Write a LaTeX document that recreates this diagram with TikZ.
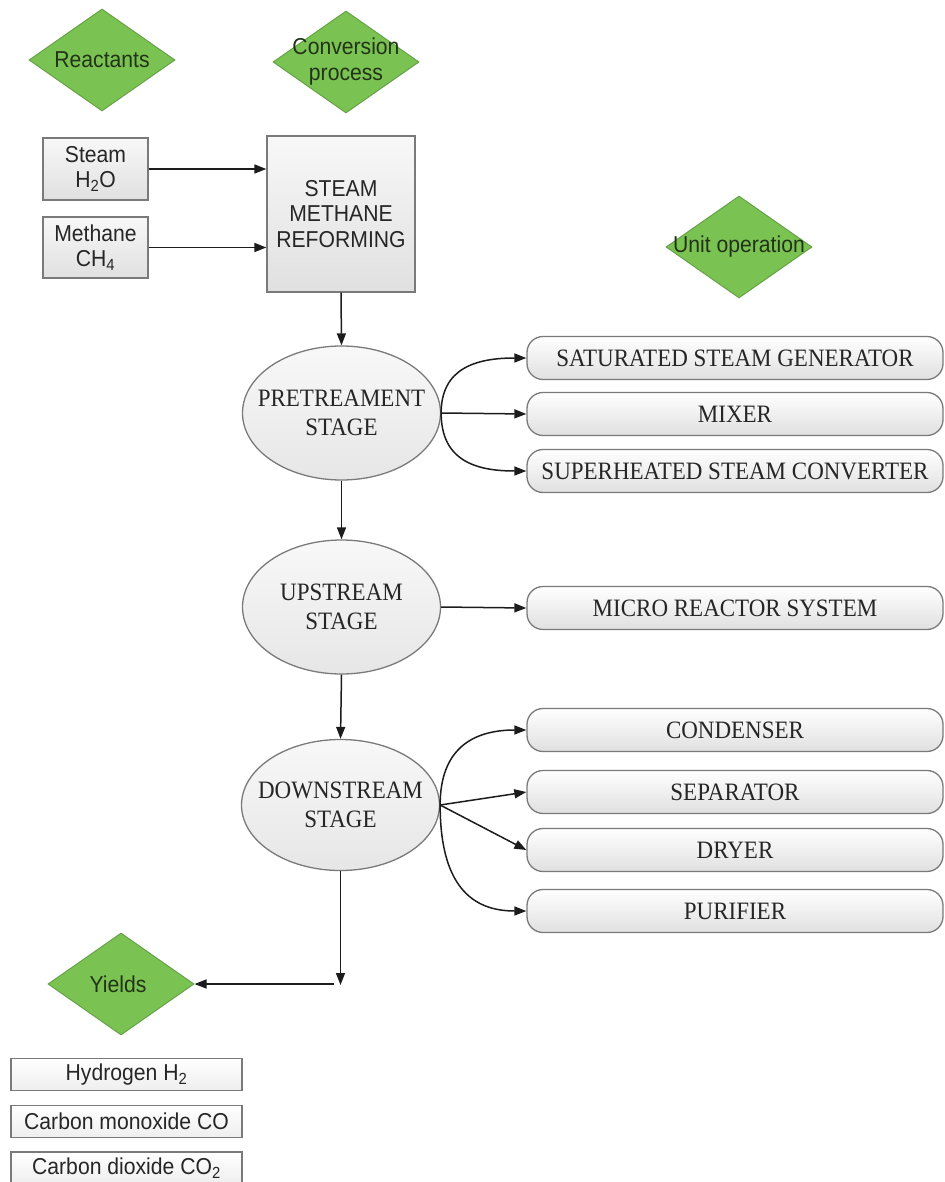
\documentclass[tikz,border=0pt]{standalone}
\usepackage{fontspec}
\setmainfont{Liberation Serif}
\newfontfamily\boxsans[FakeStretch=0.92]{Liberation Sans}
\newfontfamily\boxserif[FakeStretch=0.92]{Liberation Serif}
\usetikzlibrary{shapes.geometric,arrows.meta}

\definecolor{leafgreen}{HTML}{7AC251}
\definecolor{leafedge}{HTML}{66A247}
\definecolor{leafink}{HTML}{22331A}
\definecolor{edgegray}{HTML}{7A7A7A}
\definecolor{paleA}{HTML}{F8F8F8}
\definecolor{paleB}{HTML}{E0E0E0}
\definecolor{inkline}{HTML}{1C1C1C}
\definecolor{textgray}{HTML}{262626}

\begin{document}
\begin{tikzpicture}[x=1pt,y=-1pt,
  diam/.style={diamond, draw=leafedge, line width=1pt, fill=leafgreen,
    minimum width=146pt, minimum height=102pt, inner sep=0pt},
  dtext/.style={font=\boxsans\fontsize{23}{26}\selectfont, text=leafink,
    align=center, inner sep=0pt},
  feedbox/.style={rectangle, draw=edgegray, line width=1.3pt,
    top color=paleA, bottom color=paleB, text=textgray,
    font=\boxsans\fontsize{23}{25.5}\selectfont, align=center, inner sep=0pt},
  yieldbox/.style={rectangle, draw=edgegray, line width=1.2pt,
    top color=white, bottom color=paleA!60!paleB, text=textgray,
    font=\boxsans\fontsize{23}{25}\selectfont, inner sep=0pt,
    minimum width=231pt, minimum height=32pt},
  stage/.style={ellipse, draw=edgegray, line width=1.3pt,
    top color=paleA, bottom color=paleB!80, text=textgray,
    font=\boxserif\fontsize{25}{28.5}\selectfont, align=center,
    inner xsep=-14pt, inner ysep=0pt,
    minimum width=198pt, minimum height=134pt},
  unitbox/.style={rectangle, rounded corners=16pt, draw=edgegray, line width=1.3pt,
    top color=white, bottom color=paleB, text=textgray,
    font=\boxserif\fontsize{25}{28}\selectfont, inner sep=0pt,
    minimum width=416pt, minimum height=43pt},
  arr/.style={draw=inkline, line width=1.5pt,
    -{Triangle[length=12pt,width=9pt]}}
]
\useasboundingbox (0,0) rectangle (944,1182);

% category diamonds
\node[diam] (reac) at (102,60) {};
\node[dtext] (reac-t) at (reac) {Reactants};
\node[diam] (conv) at (346,62) {};
\node[dtext] (conv-t) at (conv) {Conversion\\process};
\node[diam] (unit) at (739,247) {};
\node[dtext] (unit-t) at (unit) {Unit operation};
\node[diam] (yld) at (121,984) {};
\node[dtext] (yld-t) at ([xshift=-3pt]yld.center) {Yields};

% feed streams and reformer
\node[feedbox, minimum width=105pt, minimum height=62pt] (steam) at (95.5,169) {Steam\\H\textsubscript{2}O};
\node[feedbox, minimum width=105pt, minimum height=61pt] (meth) at (95.5,247.5) {Methane\\CH\textsubscript{4}};
\node[feedbox, minimum width=148pt, minimum height=156pt] (smr) at (341,214) {STEAM\\METHANE\\REFORMING};

\draw[arr] (steam.east) -- (steam.east -| smr.west);
\draw[arr] (meth.east) -- (meth.east -| smr.west);

% process stages
\node[stage] (pre) at (341.5,413) {PRETREAMENT\\STAGE};
\node[stage] (up) at (341.5,607) {UPSTREAM\\STAGE};
\node[stage, minimum height=131pt] (down) at (340.5,805) {DOWNSTREAM\\STAGE};

% unit operations
\node[unitbox] (sat) at (735,358) {SATURATED STEAM GENERATOR};
\node[unitbox] (mix) at (735,414) {MIXER};
\node[unitbox] (sup) at (735,471) {SUPERHEATED STEAM CONVERTER};
\node[unitbox] (micro) at (735,608) {MICRO REACTOR SYSTEM};
\node[unitbox] (cond) at (735,730) {CONDENSER};
\node[unitbox] (sep) at (735,792) {SEPARATOR};
\node[unitbox] (dry) at (735,850) {DRYER};
\node[unitbox] (pur) at (735,911) {PURIFIER};

% products
\node[yieldbox] (h2) at (126.5,1074.5) {Hydrogen H\textsubscript{2}};
\node[yieldbox] (co) at (126.5,1121.5) {Carbon monoxide CO};
\node[yieldbox] (co2) at (126.5,1168) {Carbon dioxide CO\textsubscript{2}};

% main flow
\draw[arr] (smr.south) -- (pre.north);
\draw[arr] (pre.south) -- (up.north);
\draw[arr] (up.south) -- (down.north);
\coordinate (turn) at (340.5,985);
\draw[arr] (down.south) -- (turn);
\draw[arr] ([xshift=-7pt]turn |- yld.east) -- (yld.east);

% branches to unit operations
\draw[arr] (pre.east) .. controls +(0,-45) and +(-50,0) .. (sat.west);
\draw[arr] (pre.east) -- (mix.west);
\draw[arr] (pre.east) .. controls +(0,48) and +(-50,0) .. (sup.west);
\draw[arr] (up.east) -- (micro.west);
\draw[arr] (down.east) .. controls +(0,-55) and +(-55,0) .. (cond.west);
\draw[arr] (down.east) -- (sep.west);
\draw[arr] (down.east) -- (dry.west);
\draw[arr] (down.east) .. controls +(0,80) and +(-55,0) .. (pur.west);
\end{tikzpicture}
\end{document}
